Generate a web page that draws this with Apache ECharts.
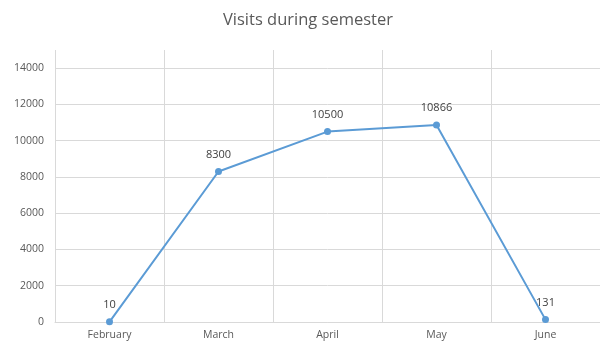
<!DOCTYPE html>
<html>
<head>
<meta charset="utf-8">
<script src="https://cdn.jsdelivr.net/npm/echarts@6/dist/echarts.min.js"></script>
<style>
  html, body { margin: 0; padding: 0; background: #fff; }
  #chart { width: 600px; height: 345px; }
</style>
</head>
<body>
<div id="chart"></div>
<script>
// Monthly visit counts over the semester
const months = ['February', 'March', 'April', 'May', 'June'];
const visits = [10, 8300, 10500, 10866, 131];
const yTicks = [0, 2000, 4000, 6000, 8000, 10000, 12000, 14000];

const gridGrey = '#d9d9d9';
const textGrey = '#595959';

// One colour per horizontal split line; the last (top edge) stays hidden
const splitColors = yTicks.map(() => gridGrey).concat(['rgba(0,0,0,0)']);

const chart = echarts.init(document.getElementById('chart'), null, { renderer: 'canvas' });
chart.setOption({
  animation: false,
  title: {
    text: 'Visits during semester',
    left: 218,
    top: 7,
    textStyle: { fontFamily: 'Open Sans', fontSize: 16.5, fontWeight: 'normal', color: textGrey }
  },
  grid: { left: 55, right: 0, top: 50, bottom: 23 },
  xAxis: {
    type: 'category',
    data: months,
    boundaryGap: true,
    axisLine: { show: true, lineStyle: { color: gridGrey, width: 1 } },
    axisTick: { show: false },
    axisLabel: { color: textGrey, fontFamily: 'Open Sans', fontSize: 10.5, margin: 8 },
    splitLine: { show: true, lineStyle: { color: gridGrey, width: 1 } }
  },
  yAxis: {
    type: 'value',
    min: 0,
    max: 15000,
    interval: 2000,
    axisLine: { show: false },
    axisTick: { show: false },
    axisLabel: {
      color: textGrey, fontFamily: 'Open Sans', fontSize: 10.5, margin: 11,
      showMaxLabel: false,
      formatter: v => (yTicks.includes(v) ? String(v) : '')
    },
    splitLine: { show: true, lineStyle: { color: splitColors, width: 1 } }
  },
  series: [{
    type: 'line',
    data: visits,
    symbol: 'circle',
    symbolSize: 7,
    lineStyle: { color: '#5b9bd5', width: 2 },
    itemStyle: { color: '#5b9bd5' },
    label: {
      show: true,
      position: 'top',
      distance: 8,
      color: '#404040',
      fontFamily: 'Open Sans',
      fontSize: 11
    }
  }]
});
</script>
</body>
</html>
